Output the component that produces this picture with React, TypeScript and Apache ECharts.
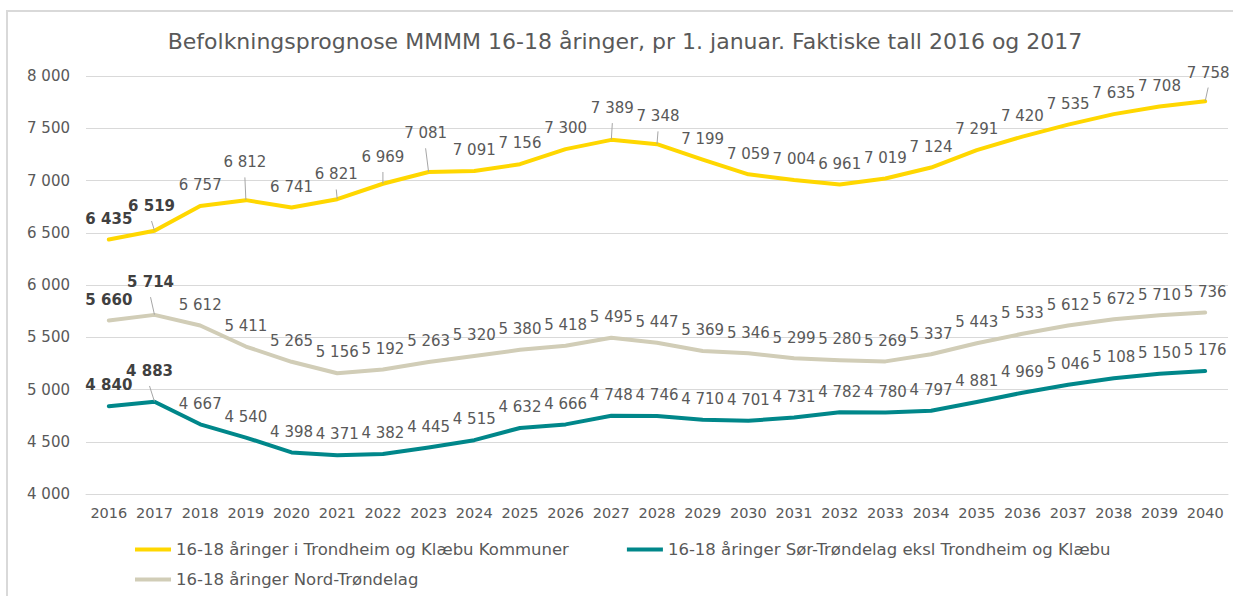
import React, { useEffect, useRef } from "react";
import * as echarts from "echarts";

const years = ["2016","2017","2018","2019","2020","2021","2022","2023","2024","2025","2026","2027","2028","2029","2030","2031","2032","2033","2034","2035","2036","2037","2038","2039","2040"];

const trondheimKlaebu = [6435,6519,6757,6812,6741,6821,6969,7081,7091,7156,7300,7389,7348,7199,7059,7004,6961,7019,7124,7291,7420,7535,7635,7708,7758];
const sorTrondelag = [4840,4883,4667,4540,4398,4371,4382,4445,4515,4632,4666,4748,4746,4710,4701,4731,4782,4780,4797,4881,4969,5046,5108,5150,5176];
const nordTrondelag = [5660,5714,5612,5411,5265,5156,5192,5263,5320,5380,5418,5495,5447,5369,5346,5299,5280,5269,5337,5443,5533,5612,5672,5710,5736];

const seriesNames = [
  "16-18 åringer i Trondheim og Klæbu Kommuner",
  "16-18 åringer Sør-Trøndelag eksl Trondheim og Klæbu",
  "16-18 åringer Nord-Trøndelag",
];
const titleText = "Befolkningsprognose MMMM 16-18 åringer, pr 1. januar. Faktiske tall 2016 og 2017";
const actualYears = 2; // first two years are actual figures (bold labels)

// label displacements (pixels) for labels with leader lines
const trondheimOffsets: Record<number, [number, number]> = {
  1: [-3, -4], 3: [-1, -17], 5: [-1, -4], 6: [0, -6], 7: [-3, -18], 11: [1, -11], 12: [1, -7], 24: [3, -8],
};
const sorOffsets: Record<number, [number, number]> = { 1: [-5, -10] };
const nordOffsets: Record<number, [number, number]> = { 1: [-4, -12] };

const fmt = (v: number) => {
  const s = String(Math.round(v));
  return s.replace(/\B(?=(\d{3})+(?!\d))/g, " ");
};

function buildData(values: number[], offsets: Record<number, [number, number]>) {
  return values.map((v, i) => {
    const item: any = { value: v };
    const label: any = {};
    if (i < actualYears) {
      label.fontWeight = "bold";
      label.color = "#404040";
    }
    const off = offsets[i];
    if (off) {
      label.offset = off;
      item.labelLine = { show: true, lineStyle: { color: "#a6a6a6", width: 1 } };
    }
    item.label = label;
    return item;
  });
}

export default function App() {
  const ref = useRef<HTMLDivElement>(null);
  useEffect(() => {
    if (!ref.current) return;
    const chart = echarts.init(ref.current, null, { renderer: "svg" });
    const font = "DejaVu Sans, Verdana, sans-serif";
    const mkSeries = (name: string, values: number[], color: string, offsets: Record<number, [number, number]>) => ({
      name,
      type: "line",
      data: buildData(values, offsets),
      color,
      showSymbol: true,
      symbol: "circle",
      symbolSize: 0.5,
      lineStyle: { width: 4, color, cap: "round", join: "round" },
      itemStyle: { color },
      label: {
        show: true,
        position: "top",
        distance: 13,
        fontFamily: font,
        fontSize: 15,
        lineHeight: 15,
        color: "#595959",
        formatter: (p: any) => fmt(p.value),
      },
      labelLine: { show: false },
      emphasis: { disabled: true },
      z: 2,
    });
    const legendText = { fontFamily: font, fontSize: 16.5, color: "#595959" };
    chart.setOption({
      animation: false,
      backgroundColor: "#ffffff",
      textStyle: { fontFamily: font },
      graphic: [
        {
          type: "rect",
          shape: { x: 7, y: 11, width: 1240, height: 600 },
          style: { fill: "none", stroke: "#d9d9d9", lineWidth: 2 },
          silent: true,
        },
        {
          type: "text",
          x: 625,
          y: 41,
          style: {
            text: titleText,
            fill: "#595959",
            font: "22px DejaVu Sans, Verdana, sans-serif",
            textAlign: "center",
            textVerticalAlign: "middle",
          },
        },
      ],
      legend: [
        {
          data: [seriesNames[0], seriesNames[1]],
          left: 135,
          top: 541,
          padding: 0,
          icon: "rect",
          itemWidth: 36,
          itemHeight: 4,
          itemGap: 58,
          textStyle: legendText,
          selectedMode: false,
        },
        {
          data: [seriesNames[2]],
          left: 135,
          top: 571,
          padding: 0,
          icon: "rect",
          itemWidth: 36,
          itemHeight: 4,
          textStyle: legendText,
          selectedMode: false,
        },
      ],
      grid: { left: 86, right: 5, top: 76, bottom: 102, containLabel: false },
      xAxis: {
        type: "category",
        data: years,
        boundaryGap: true,
        axisLine: { show: true, lineStyle: { color: "#d9d9d9", width: 1 } },
        axisTick: { show: false },
        axisLabel: { color: "#595959", fontFamily: font, fontSize: 14.5, margin: 11, interval: 0 },
      },
      yAxis: {
        type: "value",
        min: 4000,
        max: 8000,
        interval: 500,
        axisLine: { show: false },
        axisTick: { show: false },
        splitLine: { lineStyle: { color: "#d9d9d9", width: 1 } },
        axisLabel: { color: "#595959", fontFamily: font, fontSize: 15, margin: 16, formatter: (v: number) => fmt(v) },
      },
      series: [
        mkSeries(seriesNames[0], trondheimKlaebu, "#FFD700", trondheimOffsets),
        mkSeries(seriesNames[1], sorTrondelag, "#00878A", sorOffsets),
        mkSeries(seriesNames[2], nordTrondelag, "#D1CDB7", nordOffsets),
      ],
    });
    return () => chart.dispose();
  }, []);
  return <div ref={ref} style={{ position: "fixed", left: 0, top: 0, width: 1233, height: 596 }} />;
}
